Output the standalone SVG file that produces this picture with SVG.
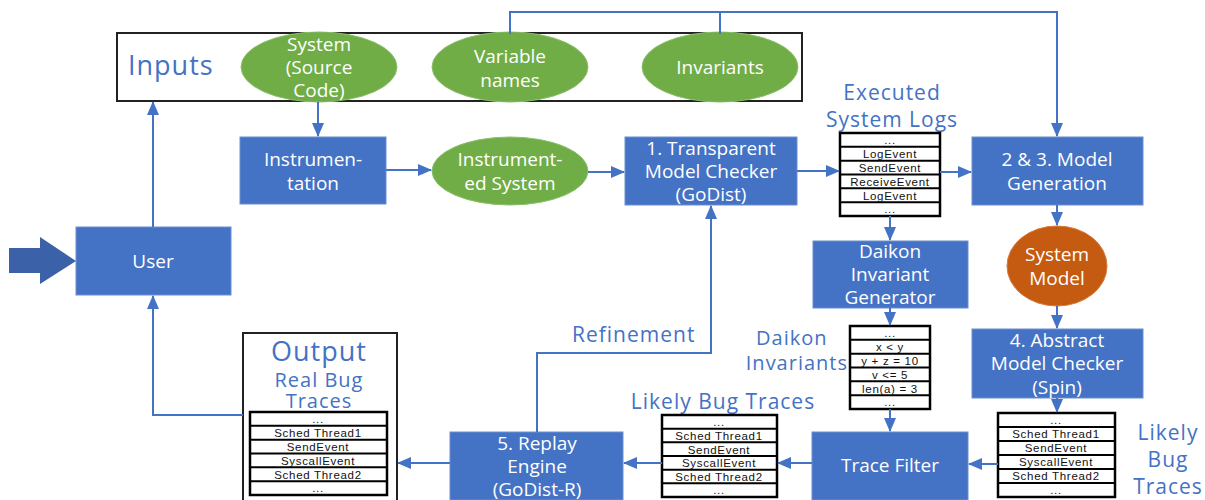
<svg xmlns="http://www.w3.org/2000/svg" width="1205" height="500" viewBox="0 0 1205 500">
  <style>
    .box { fill: #4472C4; stroke: #6d8fd0; stroke-width: 1; }
    .ell { fill: #70AD47; stroke: #8cbf6c; stroke-width: 1; }
    .wt { fill: #ffffff; font-family: "Open Sans", "Liberation Sans", sans-serif; font-size: 19px; text-anchor: middle; }
    .lbl { fill: #4472C4; font-family: "Open Sans", "Liberation Sans", sans-serif; font-size: 21px; letter-spacing: 1px; }
    .big { font-size: 27px; }
    .conn { fill: none; stroke: #4472C4; stroke-width: 2; }
    .tbl { fill: #ffffff; stroke: #000000; stroke-width: 2.5; }
    .row { stroke: #000000; stroke-width: 2; }
    .tt { fill: #111111; font-family: "Liberation Sans", "Open Sans", sans-serif; font-size: 11.5px; letter-spacing: 0.7px; text-anchor: middle; }
    .frame { fill: #ffffff; stroke: #222222; stroke-width: 2; }
  </style>
  <defs>
    <marker id="ah" markerUnits="userSpaceOnUse" markerWidth="14" markerHeight="14" viewBox="0 0 14 14" refX="13" refY="7" orient="auto">
      <path d="M0,1 L14,7 L0,13 Z" fill="#4472C4"/>
    </marker>
  </defs>

  <rect width="1205" height="500" fill="#ffffff"/>

  <!-- Inputs frame -->
  <g id="inputs">
    <rect class="frame" x="117" y="33" width="685" height="68"/>
    <text class="lbl big" x="128" y="75">Inputs</text>
  </g>
  <g id="source-code">
    <ellipse class="ell" cx="319" cy="67" rx="78" ry="35"/>
    <text class="wt" x="319" y="51">System</text>
    <text class="wt" x="319" y="74">(Source</text>
    <text class="wt" x="319" y="97">Code)</text>
  </g>
  <g id="variable-names">
    <ellipse class="ell" cx="510" cy="67" rx="78" ry="35"/>
    <text class="wt" x="510" y="63">Variable</text>
    <text class="wt" x="510" y="87">names</text>
  </g>
  <g id="invariants">
    <ellipse class="ell" cx="720" cy="67" rx="78" ry="35"/>
    <text class="wt" x="720" y="74">Invariants</text>
  </g>

  <!-- Processing stages -->
  <g id="instrumentation">
    <rect class="box" x="240" y="137" width="146" height="67"/>
    <text class="wt" x="313" y="166">Instrumen-</text>
    <text class="wt" x="313" y="190">tation</text>
  </g>
  <g id="instrumented-system">
    <ellipse class="ell" cx="510" cy="171" rx="78" ry="34"/>
    <text class="wt" x="510" y="166">Instrument-</text>
    <text class="wt" x="510" y="190">ed System</text>
  </g>
  <g id="transparent-checker">
    <rect class="box" x="625" y="137" width="172" height="68"/>
    <text class="wt" x="711" y="155">1. Transparent</text>
    <text class="wt" x="711" y="178">Model Checker</text>
    <text class="wt" x="711" y="201">(GoDist)</text>
  </g>
  <g id="model-generation">
    <rect class="box" x="972" y="137" width="171" height="68"/>
    <text class="wt" x="1057" y="166">2 &amp; 3. Model</text>
    <text class="wt" x="1057" y="190">Generation</text>
  </g>
  <g id="daikon">
    <rect class="box" x="813" y="241" width="155" height="67"/>
    <text class="wt" x="890" y="258">Daikon</text>
    <text class="wt" x="890" y="281">Invariant</text>
    <text class="wt" x="890" y="304">Generator</text>
  </g>
  <g id="system-model">
    <ellipse cx="1057" cy="266" rx="50" ry="40" fill="#C55A11" stroke="#d97a3c" stroke-width="1"/>
    <text class="wt" x="1057" y="261">System</text>
    <text class="wt" x="1057" y="285">Model</text>
  </g>
  <g id="abstract-checker">
    <rect class="box" x="972" y="329" width="171" height="69"/>
    <text class="wt" x="1057" y="347">4. Abstract</text>
    <text class="wt" x="1057" y="370">Model Checker</text>
    <text class="wt" x="1057" y="394">(Spin)</text>
  </g>
  <g id="trace-filter">
    <rect class="box" x="812" y="432" width="156" height="68"/>
    <text class="wt" x="890" y="472">Trace Filter</text>
  </g>
  <g id="replay-engine">
    <rect class="box" x="450" y="432" width="173" height="68"/>
    <text class="wt" x="537" y="450">5. Replay</text>
    <text class="wt" x="537" y="473">Engine</text>
    <text class="wt" x="537" y="496">(GoDist-R)</text>
  </g>
  <g id="user">
    <rect class="box" x="76" y="227" width="155" height="68"/>
    <text class="wt" x="153" y="268">User</text>
    <path d="M9,248 H40 V237 L76,261 L40,284 V273 H9 Z" fill="#3B62A8"/>
  </g>

  <!-- Executed system logs -->
  <g id="system-logs">
    <text class="lbl" x="892" y="100" text-anchor="middle">Executed</text>
    <text class="lbl" x="892" y="127" text-anchor="middle">System Logs</text>
    <rect class="tbl" x="840" y="133" width="100" height="83"/>
    <path class="row" d="M840,146.8 H940 M840,160.7 H940 M840,174.5 H940 M840,188.3 H940 M840,202.2 H940"/>
    <text class="tt" x="890" y="144">...</text>
    <text class="tt" x="890" y="158">LogEvent</text>
    <text class="tt" x="890" y="172">SendEvent</text>
    <text class="tt" x="890" y="186">ReceiveEvent</text>
    <text class="tt" x="890" y="199.5">LogEvent</text>
    <text class="tt" x="890" y="213">...</text>
  </g>

  <!-- Daikon invariants -->
  <g id="daikon-invariants">
    <text class="lbl" x="756" y="345" style="font-size:20px">Daikon</text>
    <text class="lbl" x="848" y="370" text-anchor="end" style="font-size:20px">Invariants</text>
    <rect class="tbl" x="850" y="326" width="80" height="83"/>
    <path class="row" d="M850,339.8 H930 M850,353.7 H930 M850,367.5 H930 M850,381.3 H930 M850,395.2 H930"/>
    <text class="tt" x="890" y="337">...</text>
    <text class="tt" x="890" y="351">x &lt; y</text>
    <text class="tt" x="890" y="365">y + z = 10</text>
    <text class="tt" x="890" y="379">v &lt;= 5</text>
    <text class="tt" x="890" y="392.5">len(a) = 3</text>
    <text class="tt" x="890" y="406">...</text>
  </g>

  <!-- Likely bug traces from the abstract checker -->
  <g id="spin-traces">
    <rect class="tbl" x="998" y="413" width="117" height="84"/>
    <path class="row" d="M998,427 H1115 M998,441 H1115 M998,455 H1115 M998,469 H1115 M998,483 H1115"/>
    <text class="tt" x="1056" y="424">...</text>
    <text class="tt" x="1056" y="438">Sched Thread1</text>
    <text class="tt" x="1056" y="452">SendEvent</text>
    <text class="tt" x="1056" y="466">SyscallEvent</text>
    <text class="tt" x="1056" y="480">Sched Thread2</text>
    <text class="tt" x="1056" y="494">...</text>
    <text class="lbl" x="1168" y="440" text-anchor="middle">Likely</text>
    <text class="lbl" x="1168" y="467" text-anchor="middle">Bug</text>
    <text class="lbl" x="1168" y="494" text-anchor="middle">Traces</text>
  </g>

  <!-- Filtered likely bug traces -->
  <g id="filtered-traces">
    <text class="lbl" x="723" y="409" text-anchor="middle">Likely Bug Traces</text>
    <rect class="tbl" x="662" y="415" width="115" height="82"/>
    <path class="row" d="M662,428.7 H777 M662,442.3 H777 M662,456 H777 M662,469.7 H777 M662,483.3 H777"/>
    <text class="tt" x="719" y="426">...</text>
    <text class="tt" x="719" y="440">Sched Thread1</text>
    <text class="tt" x="719" y="453.5">SendEvent</text>
    <text class="tt" x="719" y="467">SyscallEvent</text>
    <text class="tt" x="719" y="481">Sched Thread2</text>
    <text class="tt" x="719" y="494">...</text>
  </g>

  <!-- Output -->
  <g id="output">
    <rect class="frame" x="243" y="333" width="154" height="170"/>
    <text class="lbl big" x="319" y="361" text-anchor="middle">Output</text>
    <text class="lbl" x="319" y="387" text-anchor="middle" style="font-size:20px">Real Bug</text>
    <text class="lbl" x="319" y="408" text-anchor="middle" style="font-size:20px">Traces</text>
    <rect class="tbl" x="250" y="412" width="137" height="83"/>
    <path class="row" d="M250,425.8 H387 M250,439.7 H387 M250,453.5 H387 M250,467.3 H387 M250,481.2 H387"/>
    <text class="tt" x="318" y="423">...</text>
    <text class="tt" x="318" y="437">Sched Thread1</text>
    <text class="tt" x="318" y="451">SendEvent</text>
    <text class="tt" x="318" y="465">SyscallEvent</text>
    <text class="tt" x="318" y="478.5">Sched Thread2</text>
    <text class="tt" x="318" y="492">...</text>
  </g>

  <!-- Connectors -->
  <g id="connectors">
    <path class="conn" d="M510,34 V12 H1057 V136" marker-end="url(#ah)"/>
    <path class="conn" d="M720,34 V12"/>
    <path class="conn" d="M318,102 V136" marker-end="url(#ah)"/>
    <path class="conn" d="M386,170 H431" marker-end="url(#ah)"/>
    <path class="conn" d="M588,172 H624" marker-end="url(#ah)"/>
    <path class="conn" d="M797,171 H839" marker-end="url(#ah)"/>
    <path class="conn" d="M940,172 H971" marker-end="url(#ah)"/>
    <path class="conn" d="M890,216 V240" marker-end="url(#ah)"/>
    <path class="conn" d="M1057,205 V225" marker-end="url(#ah)"/>
    <path class="conn" d="M890,308 V325" marker-end="url(#ah)"/>
    <path class="conn" d="M1057,306 V328" marker-end="url(#ah)"/>
    <path class="conn" d="M890,409 V431" marker-end="url(#ah)"/>
    <path class="conn" d="M1057,398 V412" marker-end="url(#ah)"/>
    <path class="conn" d="M998,464 H969" marker-end="url(#ah)"/>
    <path class="conn" d="M812,463 H778" marker-end="url(#ah)"/>
    <path class="conn" d="M662,463 H624" marker-end="url(#ah)"/>
    <path class="conn" d="M450,463 H398" marker-end="url(#ah)"/>
    <path class="conn" d="M537,432 V353 H711 V206" marker-end="url(#ah)"/>
    <text class="lbl" x="572" y="342">Refinement</text>
    <path class="conn" d="M243,415 H153 V296" marker-end="url(#ah)"/>
    <path class="conn" d="M153,227 V102" marker-end="url(#ah)"/>
  </g>
</svg>
